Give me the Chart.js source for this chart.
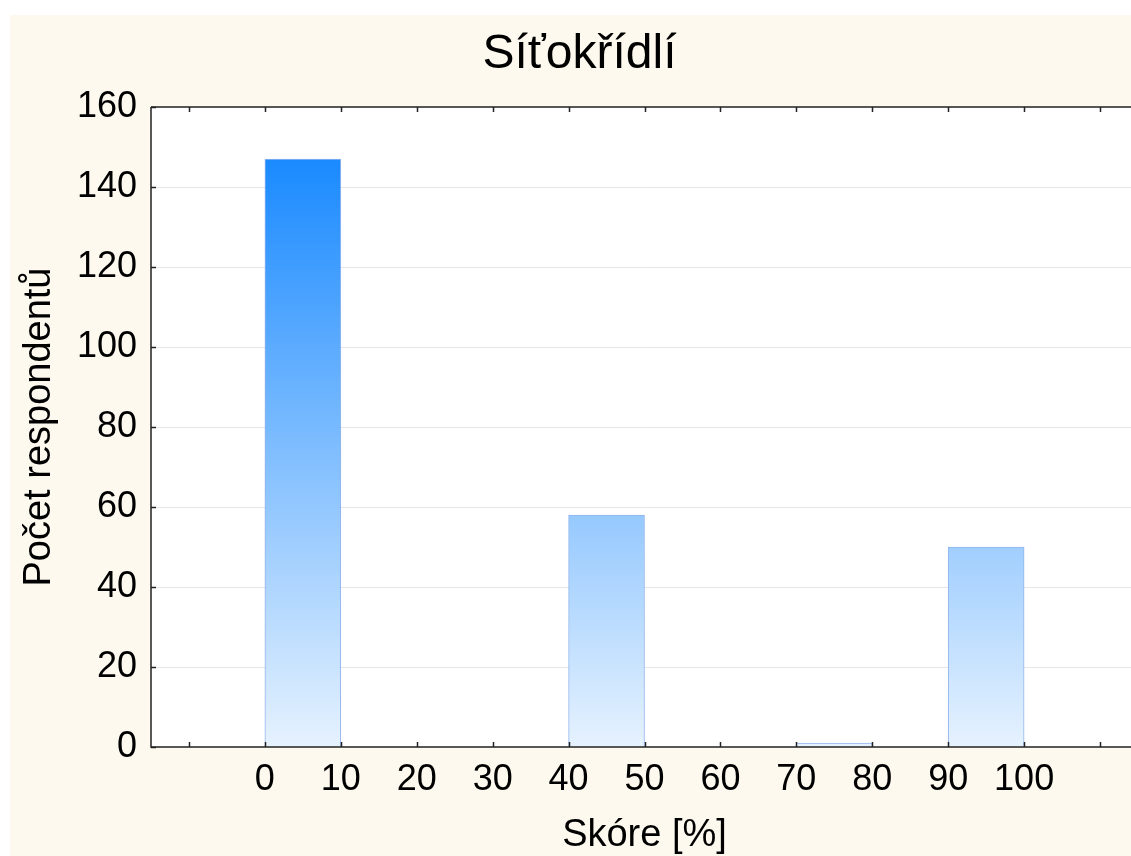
<!DOCTYPE html>
<html>
<head>
<meta charset="utf-8">
<script src="https://cdn.jsdelivr.net/npm/chart.js@4"></script>
<style>
  html, body { margin: 0; padding: 0; background: #ffffff; overflow: hidden; }
  #wrap { position: absolute; left: 10px; top: 15px; width: 1149px; height: 841px; }
</style>
</head>
<body>
<div id="wrap"><canvas id="chart-1" width="1149" height="841"></canvas></div>
<script>
// histogram bins (start of each 10 % bin) and respondent counts
const binStarts = [0, 10, 20, 30, 40, 50, 60, 70, 80, 90];
const binWidth = 10;
const counts = [147, 0, 0, 0, 58, 0, 0, 1, 0, 50];
// x tick marks; only 0..100 carry labels
const xTicks = [-10, 0, 10, 20, 30, 40, 50, 60, 70, 80, 90, 100, 110];
const xLabelMin = 0;
const xLabelMax = 100;
const yTicks = [0, 20, 40, 60, 80, 100, 120, 140, 160];

const FONT = "'Liberation Sans', Arial, sans-serif";
const CREAM = "#fef9ee";

const frame = {
  id: "frame",
  beforeDraw(chart) {
    const { ctx, chartArea: a } = chart;
    ctx.save();
    ctx.fillStyle = CREAM;
    ctx.fillRect(0, 0, chart.width, chart.height);
    ctx.fillStyle = "#ffffff";
    ctx.fillRect(a.left, a.top, a.right - a.left, a.bottom - a.top);
    ctx.restore();
  },
  afterDraw(chart) {
    const { ctx, chartArea: a, scales } = chart;
    ctx.save();
    ctx.strokeStyle = "#222222";
    ctx.lineWidth = 1.5;
    ctx.beginPath();
    ctx.moveTo(a.left, a.top);
    ctx.lineTo(a.right, a.top);
    ctx.moveTo(a.left, a.top);
    ctx.lineTo(a.left, a.bottom);
    ctx.lineTo(a.right, a.bottom);
    ctx.moveTo(a.right, a.top);
    ctx.lineTo(a.right, a.bottom);
    ctx.stroke();
    ctx.beginPath();
    scales.x.ticks.forEach((t) => {
      const px = Math.round(scales.x.getPixelForValue(t.value)) + 0.5;
      ctx.moveTo(px, a.bottom);
      ctx.lineTo(px, a.bottom - 5);
      ctx.moveTo(px, a.top);
      ctx.lineTo(px, a.top + 5);
    });
    scales.y.ticks.forEach((t) => {
      const py = Math.round(scales.y.getPixelForValue(t.value)) + 0.5;
      ctx.moveTo(a.left, py);
      ctx.lineTo(a.left + 5, py);
    });
    ctx.stroke();
    ctx.restore();
  },
};

function barFill(context) {
  const chart = context.chart;
  if (!chart.chartArea) return "#7fbfff";
  const y = chart.scales.y;
  const g = chart.ctx.createLinearGradient(0, y.getPixelForValue(0), 0, y.getPixelForValue(Math.max(...counts)));
  g.addColorStop(0, "#e6f2fe");
  g.addColorStop(1, "#1a8aff");
  return g;
}

const ctx_1 = document.getElementById("chart-1");
new Chart(ctx_1, {
  type: "bar",
  data: {
    datasets: [
      {
        label: "Počet respondentů",
        data: binStarts.map((s, i) => ({ x: s + binWidth / 2, y: counts[i] || null })),
        backgroundColor: barFill,
        borderColor: "rgba(110, 155, 230, 0.75)",
        borderWidth: 1,
        barPercentage: 1,
        categoryPercentage: 1,
      },
    ],
  },
  options: {
    responsive: false,
    animation: false,
    devicePixelRatio: 1,
    layout: { padding: { left: 11, right: 21, top: 0, bottom: 0 } },
    plugins: {
      legend: { display: false },
      tooltip: { enabled: false },
      title: {
        display: true,
        text: "Síťokřídlí",
        color: "#000000",
        font: { family: FONT, size: 48, weight: "normal", lineHeight: 1 },
        padding: { top: 16, bottom: 28 },
      },
    },
    scales: {
      x: {
        type: "linear",
        offset: false,
        min: -15,
        max: 115,
        grid: { display: false, drawTicks: false },
        border: { display: false },
        afterBuildTicks: (scale) => {
          scale.ticks = xTicks.map((v) => ({ value: v }));
        },
        ticks: {
          autoSkip: false,
          maxRotation: 0,
          padding: 11,
          color: "#000000",
          font: { family: FONT, size: 36 },
          callback: (v) => (v >= xLabelMin && v <= xLabelMax ? String(v) : ""),
        },
        title: {
          display: true,
          text: "Skóre [%]",
          color: "#000000",
          font: { family: FONT, size: 38, lineHeight: 1 },
          padding: { top: 0, bottom: 1 },
        },
        afterFit: (scale) => {
          scale.height = 109;
        },
      },
      y: {
        min: 0,
        max: 160,
        afterBuildTicks: (scale) => {
          scale.ticks = yTicks.map((v) => ({ value: v }));
        },
        grid: {
          drawTicks: false,
          color: (c) => (c.tick && (c.tick.value === 0 || c.tick.value === 160) ? "rgba(0,0,0,0)" : "#e6e6e6"),
        },
        border: { display: false },
        ticks: {
          padding: 14,
          color: "#000000",
          font: { family: FONT, size: 36 },
        },
        title: {
          display: true,
          text: "Počet respondentů",
          color: "#000000",
          font: { family: FONT, size: 38, lineHeight: 0.95 },
          padding: { top: 0, bottom: 0 },
        },
        afterFit: (scale) => {
          scale.width = 130;
        },
      },
    },
  },
  plugins: [frame],
});
</script>
</body>
</html>
